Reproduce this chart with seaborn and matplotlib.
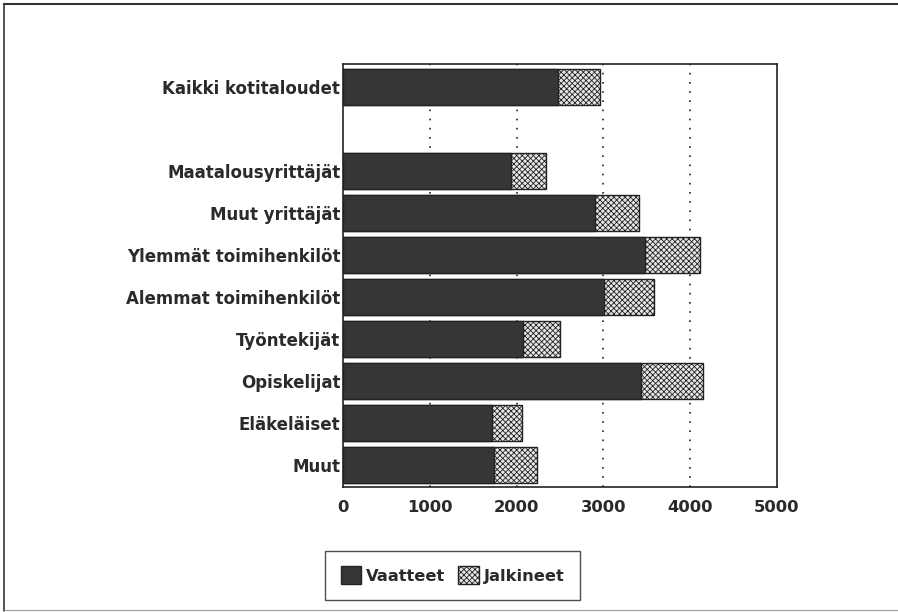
import matplotlib
matplotlib.use('Agg')
import matplotlib.pyplot as plt
import matplotlib.patches as mpatches
import seaborn as sns
import pandas as pd
import numpy as np

categories = ['Kaikki kotitaloudet', ' ', 'Maatalousyrittäjät', 'Muut yrittäjät',
              'Ylemmät toimihenkilöt', 'Alemmat toimihenkilöt', 'Työntekijät',
              'Opiskelijat', 'Eläkeläiset', 'Muut']
vaatteet = [2480, np.nan, 1940, 2900, 3480, 3010, 2070, 3430, 1720, 1740]
jalkineet = [480, np.nan, 400, 510, 630, 570, 430, 720, 340, 500]
xticks = [0, 1000, 2000, 3000, 4000, 5000]

df = pd.DataFrame({'ryhma': categories, 'Vaatteet': vaatteet, 'Jalkineet': jalkineet})
df['yhteensa'] = df['Vaatteet'] + df['Jalkineet']

sns.set_style('white')
plt.rcParams['font.family'] = ['DejaVu Sans']
plt.rcParams['hatch.linewidth'] = 0.6
plt.rcParams['hatch.color'] = '#333333'

fig = plt.figure(figsize=(8.98, 6.12), dpi=100)
ax = fig.add_axes([0.382, 0.204, 0.483, 0.691])

# total bar (footwear part shows at the end), then clothing on top
sns.barplot(data=df, y='ryhma', x='yhteensa', order=categories, orient='h',
            color='#e6e6e6', edgecolor='#222222', linewidth=1.0, width=0.86,
            hatch='xxxxxx', ax=ax, zorder=2)
sns.barplot(data=df, y='ryhma', x='Vaatteet', order=categories, orient='h',
            color='#363636', edgecolor='#222222', linewidth=1.0, width=0.86,
            ax=ax, zorder=3)

ax.set_xlim(0, 5000)
ax.set_ylim(9.52, -0.55)
ax.set_xticks(xticks)
ax.set_xticklabels([str(t) for t in xticks], fontsize=11.8, fontweight='bold', color='#2a2a2a')
for lab in ax.get_yticklabels():
    lab.set_fontweight('bold')
ax.tick_params(axis='y', labelsize=12, colors='#2a2a2a', length=0, pad=2)
ax.tick_params(axis='x', length=0, pad=9)
ax.set_xlabel('')
ax.set_ylabel('')
for t in xticks[1:-1]:
    ax.axvline(t, color='#222222', linestyle=(0, (1, 4.5)), linewidth=1.2, zorder=1)
for s in ax.spines.values():
    s.set_visible(True)
    s.set_color('#222222')
    s.set_linewidth(1.2)

handles = [mpatches.Patch(facecolor='#363636', edgecolor='#222222', label='Vaatteet'),
           mpatches.Patch(facecolor='#e6e6e6', edgecolor='#222222', hatch='xxxxxx', label='Jalkineet')]
leg = fig.legend(handles=handles, loc='center', bbox_to_anchor=(0.504, 0.06), ncol=2,
                 frameon=True, fancybox=False, handlelength=1.25,
                 handleheight=1.35, handletextpad=0.3, columnspacing=0.8, borderpad=0.95,
                 prop={'size': 11.7, 'weight': 'bold'})
for txt in leg.get_texts():
    txt.set_color('#2a2a2a')
leg.get_frame().set_edgecolor('#222222')
leg.get_frame().set_linewidth(1.0)

# outer frame of the scanned figure
fig.add_artist(plt.Line2D([0.004, 0.004], [0.002, 0.993], color='#333333', linewidth=1.2))
fig.add_artist(plt.Line2D([0.004, 1.0], [0.993, 0.993], color='#333333', linewidth=1.5))
fig.add_artist(plt.Line2D([0.004, 1.0], [0.003, 0.003], color='#999999', linewidth=0.8))

fig.savefig('out.png', dpi=100)
